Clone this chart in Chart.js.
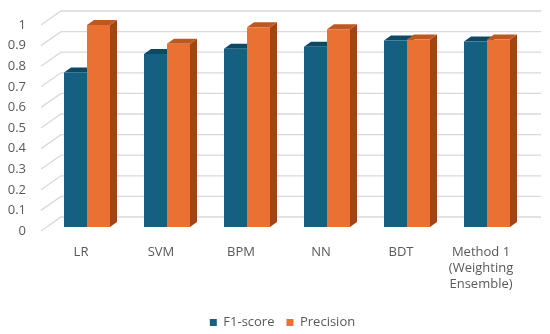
<!DOCTYPE html>
<html>
<head>
<meta charset="utf-8">
<script src="https://cdn.jsdelivr.net/npm/chart.js@4.4.1/dist/chart.umd.min.js"></script>
<style>
  body { margin: 0; background: #fff; }
  #wrap { width: 550px; height: 334px; }
</style>
</head>
<body>
<div id="wrap"><canvas id="scoreChart"></canvas></div>
<script>
// values
const categories = ['LR', 'SVM', 'BPM', 'NN', 'BDT', ['Method 1', '(Weighting', 'Ensemble)']];
const f1Scores = [0.75, 0.84, 0.865, 0.875, 0.905, 0.90];
const precisionScores = [0.98, 0.89, 0.97, 0.96, 0.91, 0.91];
const yTickLabels = ['0', '0.1', '0.2', '0.3', '0.4', '0.5', '0.6', '0.7', '0.8', '0.9', '1'];

const frontColors = ['#156082', '#E97132'];
const topColors = ['#0E4864', '#BC5923'];
const sideColors = ['#0B3A50', '#9E461A'];
const textColor = '#595959';

// fake 3d offsets (px)
const BAR_DX = 7, BAR_DY = 5;
const WALL_DX = 14, WALL_DY = 10;
const FRONT_DX = -6, FRONT_DY = 4;

const depthPlugin = {
    id: 'depth',
    afterUpdate(chart) {
        // excel puts the legend a bit lower and centred on the plot
        const lg = chart.legend;
        lg.top += 5; lg.bottom += 5;
        lg.left += 19; lg.right += 19;
    },
    beforeDatasetsDraw(chart) {
        const { ctx, chartArea, scales: { y } } = chart;
        ctx.save();
        ctx.strokeStyle = '#D9D9D9';
        ctx.lineWidth = 1.3;
        y.ticks.forEach(t => {
            const py = y.getPixelForValue(t.value);
            ctx.beginPath();
            ctx.moveTo(chartArea.left + FRONT_DX, py + FRONT_DY);
            ctx.lineTo(chartArea.left + WALL_DX, py - WALL_DY);
            ctx.lineTo(chartArea.right + WALL_DX, py - WALL_DY);
            ctx.stroke();
        });

        chart.data.datasets.forEach((ds, i) => {
            chart.getDatasetMeta(i).data.forEach(bar => {
                const { x, y: top, base, width } = bar.getProps(['x', 'y', 'base', 'width'], true);
                const l = x - width / 2, r = x + width / 2;
                // side
                ctx.fillStyle = sideColors[i];
                ctx.beginPath();
                ctx.moveTo(r, top);
                ctx.lineTo(r + BAR_DX, top - BAR_DY);
                ctx.lineTo(r + BAR_DX, base - BAR_DY);
                ctx.lineTo(r, base);
                ctx.closePath();
                ctx.fill();
                // top
                ctx.fillStyle = topColors[i];
                ctx.beginPath();
                ctx.moveTo(l, top);
                ctx.lineTo(l + BAR_DX, top - BAR_DY);
                ctx.lineTo(r + BAR_DX, top - BAR_DY);
                ctx.lineTo(r, top);
                ctx.closePath();
                ctx.fill();
            });
        });
        ctx.restore();
    }
};

const font = { family: '"Open Sans", sans-serif', size: 13, lineHeight: 1.25 };

new Chart(document.getElementById('scoreChart'), {
    type: 'bar',
    data: {
        labels: categories,
        datasets: [
            { label: 'F1-score', data: f1Scores, backgroundColor: frontColors[0] },
            { label: 'Precision', data: precisionScores, backgroundColor: frontColors[1] }
        ]
    },
    options: {
        responsive: true,
        maintainAspectRatio: false,
        animation: false,
        layout: { padding: { top: 21, right: 23, left: 0, bottom: 0 } },
        datasets: { bar: { categoryPercentage: 0.575, barPercentage: 1, borderWidth: 0 } },
        scales: {
            x: {
                grid: { display: false, drawTicks: false },
                border: { display: false },
                ticks: { color: textColor, font: font, padding: 17, labelOffset: -6, maxRotation: 0, autoSkip: false },
                afterFit(s) { s.height = 72; }
            },
            y: {
                min: 0,
                max: 1,
                grid: { display: false, drawTicks: false },
                border: { display: false },
                ticks: {
                    stepSize: 0.1,
                    color: textColor,
                    font: font,
                    padding: 21,
                    labelOffset: 4,
                    callback: (v, i) => yTickLabels[i]
                },
                afterFit(s) {
                    s.width = 47;
                    // tick padding is only meant horizontally here
                    s.paddingTop = 0;
                    s.paddingBottom = 0;
                }
            }
        },
        plugins: {
            legend: {
                position: 'bottom',
                labels: { color: textColor, font: font, boxWidth: 7, boxHeight: 7, padding: 12 }
            },
            tooltip: { enabled: false }
        }
    },
    plugins: [depthPlugin]
});
</script>
</body>
</html>
